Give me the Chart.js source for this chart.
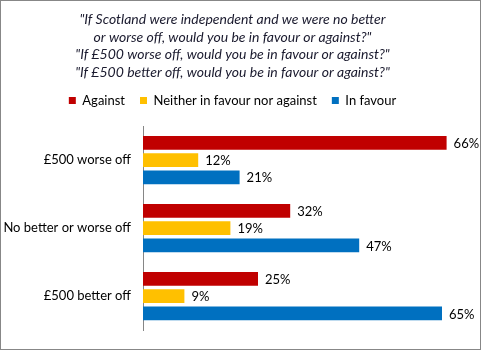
<!DOCTYPE html>
<html>
<head>
<meta charset="utf-8">
<script src="https://cdn.jsdelivr.net/npm/chart.js@4/dist/chart.umd.min.js"></script>
<style>
  html, body { margin: 0; padding: 0; background: #fff; }
  #wrap { position: relative; width: 481px; height: 350px; }
  #frame { position: absolute; left: 0; top: 0; width: 479px; height: 348px; border: 1px solid #878787; pointer-events: none; }
</style>
</head>
<body>
<div id="wrap">
  <canvas id="chart" width="481" height="350"></canvas>
  <div id="frame"></div>
</div>
<script>
// Data
const categories = ['£500 worse off', 'No better or worse off', '£500 better off'];
const seriesNames = ['Against', 'Neither in favour nor against', 'In favour'];
const against = [66, 32, 25];
const neither = [12, 19, 9];
const inFavour = [21, 47, 65];
const titleLines = [
    '"If Scotland were independent and we were no better',
    'or worse off, would you be in favour or against?"',
    '"If £500 worse off, would you be in favour or against?"',
    '"If £500 better off, would you be in favour or against?"'
];

const FONT = 'Lato, "Open Sans", sans-serif';

// Draws the percentage labels to the right of each bar
const valueLabels = {
    id: 'valueLabels',
    afterDatasetsDraw(chart) {
        const ctx = chart.ctx;
        ctx.save();
        ctx.font = '13px ' + FONT;
        ctx.fillStyle = '#000';
        ctx.textBaseline = 'middle';
        ctx.textAlign = 'left';
        chart.data.datasets.forEach((ds, i) => {
            chart.getDatasetMeta(i).data.forEach((bar, j) => {
                ctx.fillText(ds.data[j] + '%', bar.x + 7, bar.y + 1);
            });
        });
        ctx.restore();
    }
};

const ctx = document.getElementById('chart').getContext('2d');
new Chart(ctx, {
    type: 'bar',
    data: {
        labels: categories,
        datasets: [
            { label: seriesNames[0], data: against, backgroundColor: '#C00000' },
            { label: seriesNames[1], data: neither, backgroundColor: '#FFC000' },
            { label: seriesNames[2], data: inFavour, backgroundColor: '#0070C0' }
        ]
    },
    options: {
        indexAxis: 'y',
        responsive: false,
        animation: false,
        datasets: {
            bar: { categoryPercentage: 0.76, barPercentage: 0.8 }
        },
        layout: {
            padding: { left: 0, right: 16, top: 11, bottom: 17 }
        },
        scales: {
            x: {
                position: 'top',
                min: 0,
                max: 70,
                grid: { display: false, drawTicks: false },
                border: { display: false },
                ticks: { display: false },
                // invisible axis, only used as a gap under the legend
                afterFit(scale) { scale.height = 9; }
            },
            y: {
                grid: { display: false, drawTicks: false },
                border: { display: true, color: '#868686', width: 1 },
                ticks: {
                    color: '#000',
                    padding: 12,
                    font: { family: FONT, size: 13 }
                },
                afterFit(scale) { scale.width = 143; }
            }
        },
        plugins: {
            title: {
                display: true,
                text: titleLines,
                color: '#1a1a2e',
                font: { family: FONT, size: 14, style: 'italic', weight: 'normal', lineHeight: 1.25 },
                padding: { top: 0, bottom: -2 }
            },
            legend: {
                position: 'top',
                labels: {
                    boxWidth: 7,
                    boxHeight: 7,
                    padding: 15,
                    color: '#000',
                    font: { family: FONT, size: 13 }
                }
            },
            tooltip: { enabled: false }
        }
    },
    plugins: [valueLabels]
});
</script>
</body>
</html>
